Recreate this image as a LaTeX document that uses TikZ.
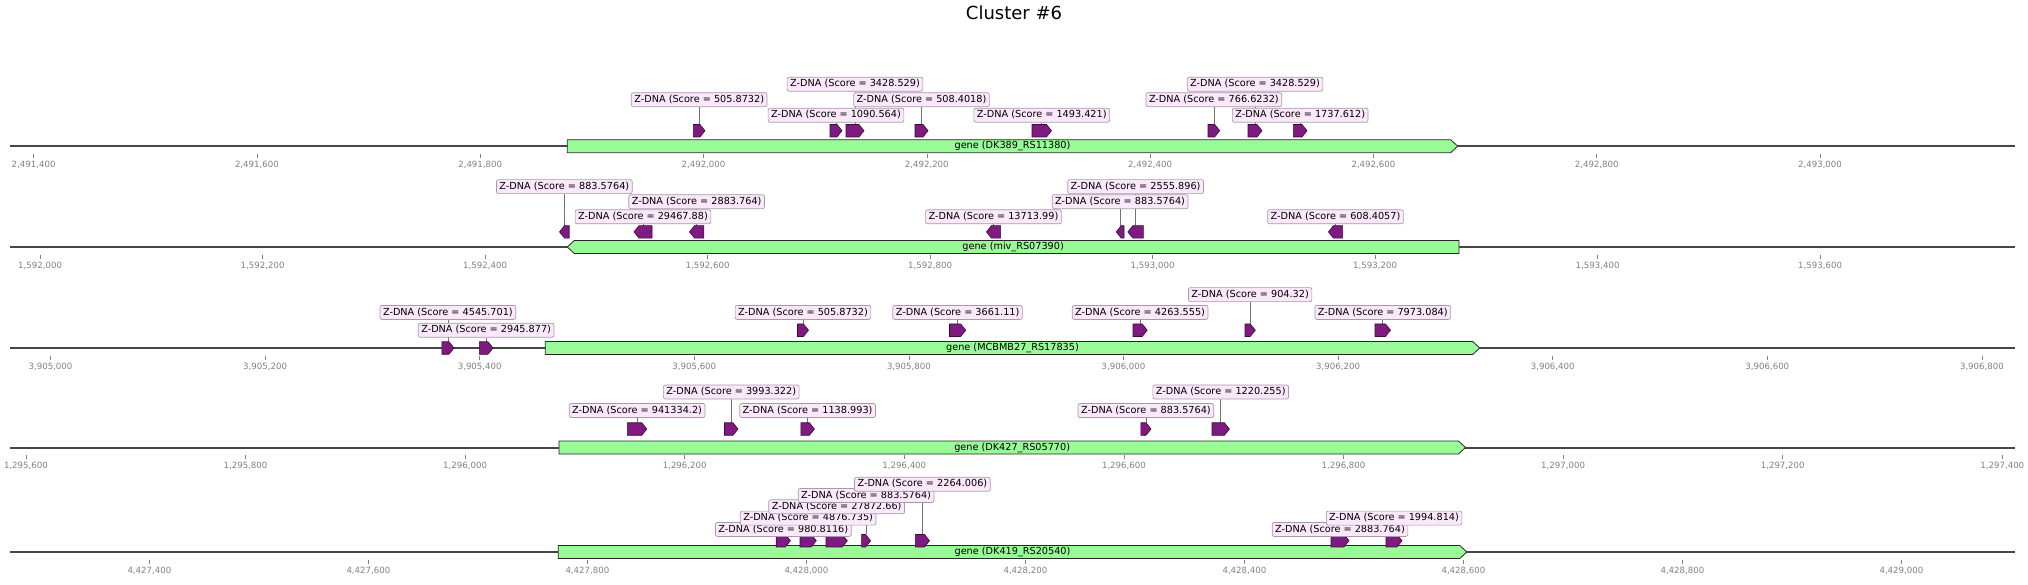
\documentclass[tikz,border=0pt]{standalone}
\usepackage{fontspec}
\setmainfont{DejaVu Sans}
\definecolor{genefill}{HTML}{98FB98}
\definecolor{featfill}{HTML}{7E1A80}
\definecolor{featedge}{HTML}{3C0A3C}
\definecolor{labfill}{HTML}{FBE8FB}
\definecolor{labedge}{HTML}{A89AA8}
\definecolor{tickgray}{HTML}{808080}
\pgfdeclarelayer{bg}
\pgfsetlayers{bg,main}
\tikzset{
 axisline/.style={draw=black!72, line width=2pt},
 genebox/.style={fill=genefill, draw=black!85, line width=0.8pt},
 feat/.style={fill=featfill, draw=featedge, line width=0.6pt},
 zlab/.style={draw=labedge, fill=labfill, rounded corners=2pt, line width=0.7pt, inner xsep=3pt, inner ysep=2.3pt, text height=7.4pt, text depth=2pt, font=\fontsize{9.7}{11}\selectfont, text=black},
 conn/.style={draw=black!55, line width=0.6pt},
 tickm/.style={draw=tickgray, line width=0.6pt},
 ticklab/.style={text=tickgray, font=\fontsize{8.6}{10}\selectfont, inner sep=0pt},
 genelab/.style={font=\fontsize{9.7}{11}\selectfont, inner sep=0pt},
 titlestyle/.style={font=\fontsize{18}{21}\selectfont, inner sep=0pt}
}
% right-pointing feature: name, x1, x2, yc
\newcommand{\featR}[4]{%
 \pgfmathsetmacro{\hx}{max(#2,#3-5)}%
 \path[feat] (#2,#4-6.25) -- (\hx,#4-6.25) -- (#3,#4) -- (\hx,#4+6.25) -- (#2,#4+6.25) -- cycle;
 \coordinate (#1) at ({(#2+#3)/2},#4-6.25);}
% left-pointing feature
\newcommand{\featL}[4]{%
 \pgfmathsetmacro{\hx}{min(#2+5,#3)}%
 \path[feat] (#2,#4) -- (\hx,#4-6.25) -- (#3,#4-6.25) -- (#3,#4+6.25) -- (\hx,#4+6.25) -- cycle;
 \coordinate (#1) at ({(#2+#3)/2},#4-6.25);}
% label: name, feature coordinate, y, score
\newcommand{\zlab}[4]{%
 \node[zlab] (#1) at (#2 |- 0,#3) {Z-DNA (Score = #4)};
 \begin{pgfonlayer}{bg}\draw[conn] (#2) -- (#1.south);\end{pgfonlayer}}
% genes
\newcommand{\geneR}[5]{%
 \path[genebox] (#2,#4-6.5) -- (#3-7,#4-6.5) -- (#3,#4) -- (#3-7,#4+6.5) -- (#2,#4+6.5) -- cycle;
 \node[genelab] (#1) at ({(#2+#3)/2},#4) {#5};}
\newcommand{\geneL}[5]{%
 \path[genebox] (#2,#4) -- (#2+7,#4-6.5) -- (#3,#4-6.5) -- (#3,#4+6.5) -- (#2+7,#4+6.5) -- cycle;
 \node[genelab] (#1) at ({(#2+#3)/2},#4) {#5};}
\begin{document}
\begin{tikzpicture}[x=1pt,y=-1pt]
\useasboundingbox (0,0) rectangle (2028,584);
\node[titlestyle] (title) at (1014,13) {Cluster \#6};

% ---------- Row 1 ----------
\draw[axisline] (10,146.2) -- (2015,146.2);
\foreach \i/\lab in {0/{2,491,400},1/{2,491,600},2/{2,491,800},3/{2,492,000},4/{2,492,200},5/{2,492,400},6/{2,492,600},7/{2,492,800},8/{2,493,000}}{
 \draw[tickm] (33.6+\i*223.3,153.7) -- (33.6+\i*223.3,157.7);
 \node[ticklab] (ra\i) at (33.6+\i*223.3,164.9) {\lab};}
\geneR{gA}{567.3}{1457.7}{146.2}{gene (DK389\_RS11380)}
\featR{f1}{693.4}{705}{130.7}
\featR{f2}{830}{842}{130.7}
\featR{f3}{846}{864}{130.7}
\featR{f4}{915}{928}{130.7}
\featR{f5}{1032}{1051.5}{130.7}
\featR{f6}{1208}{1219.7}{130.7}
\featR{f7}{1248}{1262}{130.7}
\featR{f8}{1293.4}{1307}{130.7}
\zlab{lf2}{f2}{115.2}{1090.564}
\zlab{lf5}{f5}{115.2}{1493.421}
\zlab{lf8}{f8}{115.2}{1737.612}
\zlab{lf1}{f1}{99.7}{505.8732}
\zlab{lf4}{f4}{99.7}{508.4018}
\zlab{lf6}{f6}{99.7}{766.6232}
\zlab{lf3}{f3}{84.2}{3428.529}
\zlab{lf7}{f7}{84.2}{3428.529}

% ---------- Row 2 ----------
\draw[axisline] (10,247) -- (2015,247);
\foreach \i/\lab in {0/{1,592,000},1/{1,592,200},2/{1,592,400},3/{1,592,600},4/{1,592,800},5/{1,593,000},6/{1,593,200},7/{1,593,400},8/{1,593,600}}{
 \draw[tickm] (40.1+\i*222.5,254.5) -- (40.1+\i*222.5,258.5);
 \node[ticklab] (rb\i) at (40.1+\i*222.5,265.7) {\lab};}
\geneL{gB}{567.3}{1459}{247}{gene (miv\_RS07390)}
\featL{g1}{559.5}{569.2}{231.9}
\featL{g2}{634}{652}{231.9}
\featL{g3}{689.5}{703.8}{231.9}
\featL{g4}{986.4}{1000.6}{231.9}
\featL{g5}{1116.2}{1124}{231.9}
\featL{g6}{1127.8}{1143.4}{231.9}
\featL{g7}{1328.4}{1342.6}{231.9}
\zlab{lg2}{g2}{216.8}{29467.88}
\zlab{lg4}{g4}{216.8}{13713.99}
\zlab{lg7}{g7}{216.8}{608.4057}
\zlab{lg3}{g3}{201.7}{2883.764}
\zlab{lg5}{g5}{201.7}{883.5764}
\zlab{lg1}{g1}{186.6}{883.5764}
\zlab{lg6}{g6}{186.6}{2555.896}

% ---------- Row 3 ----------
\draw[axisline] (10,348) -- (2015,348);
\foreach \i/\lab in {0/{3,905,000},1/{3,905,200},2/{3,905,400},3/{3,905,600},4/{3,905,800},5/{3,906,000},6/{3,906,200},7/{3,906,400},8/{3,906,600},9/{3,906,800}}{
 \draw[tickm] (50.5+\i*214.6,355.5) -- (50.5+\i*214.6,359.5);
 \node[ticklab] (rc\i) at (50.5+\i*214.6,366.7) {\lab};}
\geneR{gC}{545.3}{1479.7}{348}{gene (MCBMB27\_RS17835)}
\featR{h1}{441.8}{454}{348}
\featR{h2}{479.3}{493}{348}
\featR{h3}{797.5}{808.5}{330.2}
\featR{h4}{949.5}{965.7}{330.2}
\featR{h5}{1133}{1147.2}{330.2}
\featR{h6}{1245}{1255.3}{330.2}
\featR{h7}{1375}{1390.5}{330.2}
\zlab{lh2}{h2}{330.2}{2945.877}
\zlab{lh1}{h1}{312.4}{4545.701}
\zlab{lh3}{h3}{312.4}{505.8732}
\zlab{lh4}{h4}{312.4}{3661.11}
\zlab{lh5}{h5}{312.4}{4263.555}
\zlab{lh7}{h7}{312.4}{7973.084}
\zlab{lh6}{h6}{294.6}{904.32}

% ---------- Row 4 ----------
\draw[axisline] (10,447.5) -- (2015,447.5);
\foreach \i/\lab in {0/{1,295,600},1/{1,295,800},2/{1,296,000},3/{1,296,200},4/{1,296,400},5/{1,296,600},6/{1,296,800},7/{1,297,000},8/{1,297,200},9/{1,297,400}}{
 \draw[tickm] (25.9+\i*219.6,455) -- (25.9+\i*219.6,459);
 \node[ticklab] (rd\i) at (25.9+\i*219.6,466.2) {\lab};}
\geneR{gD}{558.9}{1465.5}{447.5}{gene (DK427\_RS05770)}
\featR{k1}{627.4}{646.8}{429}
\featR{k2}{724.5}{738}{429}
\featR{k3}{800.8}{814.4}{429}
\featR{k4}{1140.8}{1151}{429}
\featR{k5}{1212}{1229.4}{429}
\zlab{lk1}{k1}{410.5}{941334.2}
\zlab{lk3}{k3}{410.5}{1138.993}
\zlab{lk4}{k4}{410.5}{883.5764}
\zlab{lk2}{k2}{392}{3993.322}
\zlab{lk5}{k5}{392}{1220.255}

% ---------- Row 5 ----------
\draw[axisline] (10,552) -- (2015,552);
\foreach \i/\lab in {0/{4,427,400},1/{4,427,600},2/{4,427,800},3/{4,428,000},4/{4,428,200},5/{4,428,400},6/{4,428,600},7/{4,428,800},8/{4,429,000}}{
 \draw[tickm] (149.4+\i*219,559.5) -- (149.4+\i*219,563.5);
 \node[ticklab] (re\i) at (149.4+\i*219,570.7) {\lab};}
\geneR{gE}{558.2}{1466.8}{552}{gene (DK419\_RS20540)}
\featR{m1}{776.2}{790.4}{540.7}
\featR{m2}{800}{816.3}{540.7}
\featR{m3}{826}{847.3}{540.7}
\featR{m4}{861.6}{870.6}{540.7}
\featR{m5}{915.3}{929.5}{540.7}
\featR{m6}{1331}{1349}{540.7}
\featR{m7}{1386}{1402}{540.7}
\zlab{lm1}{m1}{529.4}{980.8116}
\zlab{lm6}{m6}{529.4}{2883.764}
\zlab{lm2}{m2}{518.1}{4876.735}
\zlab{lm7}{m7}{518.1}{1994.814}
\zlab{lm3}{m3}{506.8}{27872.66}
\zlab{lm4}{m4}{495.5}{883.5764}
\zlab{lm5}{m5}{484.2}{2264.006}
\end{tikzpicture}
\end{document}
